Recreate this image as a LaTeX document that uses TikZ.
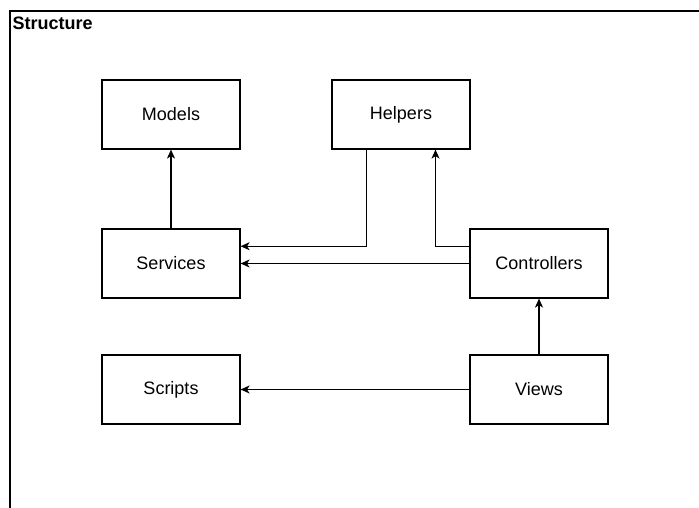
\documentclass[tikz,border=0pt]{standalone}
\usepackage{fontspec}
\setmainfont{Liberation Sans}
\usetikzlibrary{arrows.meta}
\begin{document}
\begin{tikzpicture}[x=1pt,y=-1pt,
  box/.style={draw=black,line width=1.2pt,minimum width=138pt,minimum height=69pt,inner sep=0pt,font=\fontsize{18}{21}\selectfont},
  conn/.style={line width=1.3pt,-{Stealth[length=9pt,width=8pt,inset=2.5pt]}}]
\useasboundingbox (0,0) rectangle (699,508);
\fill[white] (0,0) rectangle (699,508);
\coordinate (ftl) at (10,11);
\coordinate (ftr) at (699,11);
\coordinate (fbl) at (10,508);
\draw[line width=1.3pt] (ftr) -- (ftl) -- (fbl);
\node[anchor=base west,inner sep=0pt,font=\bfseries\fontsize{18}{21}\selectfont] (title) at (12.5,29.5) {Structure};
\node[box] (models) at (171,114.5) {Models};
\node[box] (helpers) at (401,114.5) {Helpers};
\node[box] (services) at (171,263.5) {Services};
\node[box] (controllers) at (539,263.5) {Controllers};
\node[box] (scripts) at (171,389.5) {Scripts};
\node[box] (views) at (539,389.5) {Views};
\draw[conn] (services.north) -- (models.south);
\draw[conn] ([yshift=17.25pt]controllers.west) -| ([xshift=34.5pt]helpers.south);
\draw[conn] ([xshift=-34.5pt]helpers.south) |- ([yshift=17.25pt]services.east);
\draw[conn] (controllers.west) -- (services.east);
\draw[conn] (views.north) -- (controllers.south);
\draw[conn] (views.west) -- (scripts.east);
\end{tikzpicture}
\end{document}
